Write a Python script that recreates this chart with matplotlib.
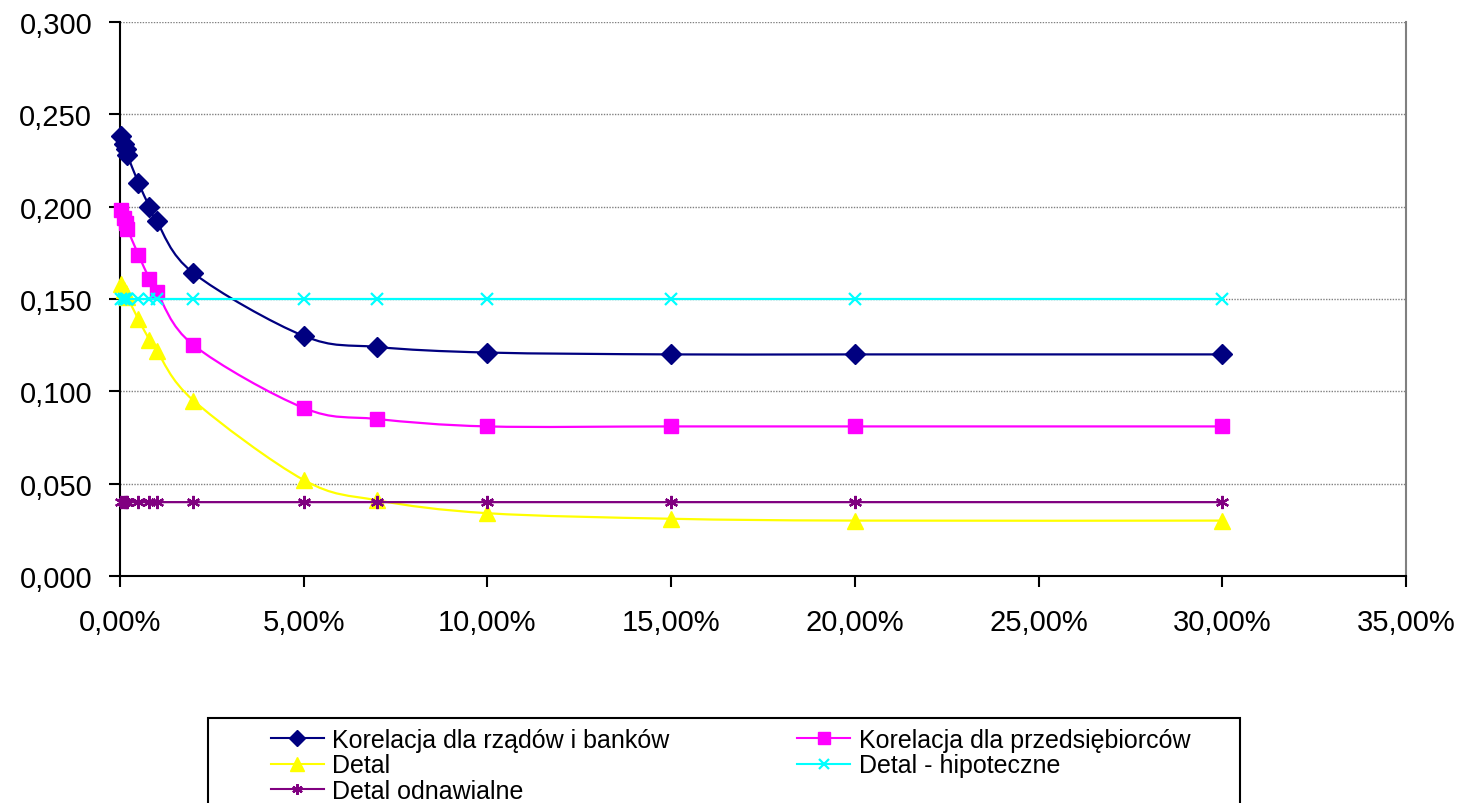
import numpy as np
import matplotlib
matplotlib.use("Agg")
import matplotlib.pyplot as plt
from matplotlib.path import Path
from matplotlib.patches import PathPatch, Rectangle
from matplotlib.lines import Line2D
from matplotlib.ticker import FuncFormatter, MultipleLocator

plt.rcParams['font.family'] = ['Liberation Sans', 'DejaVu Sans']

# PD w procentach
pd_pct = [0.03, 0.1, 0.15, 0.2, 0.5, 0.8, 1, 2, 5, 7, 10, 15, 20, 30]

rzady_banki = [0.238, 0.234, 0.231, 0.228, 0.213, 0.200, 0.192, 0.164, 0.130, 0.124, 0.121, 0.120, 0.120, 0.120]
przedsiebiorcy = [0.198, 0.194, 0.191, 0.188, 0.174, 0.161, 0.154, 0.125, 0.091, 0.085, 0.081, 0.081, 0.081, 0.081]
detal = [0.158, 0.155, 0.153, 0.151, 0.139, 0.128, 0.122, 0.095, 0.052, 0.041, 0.034, 0.031, 0.030, 0.030]
hipoteczne = [0.150] * 14
odnawialne = [0.040] * 14

series = [
    ("Korelacja dla rządów i banków", rzady_banki, "#000080", "D", 10),
    ("Korelacja dla przedsiębiorców", przedsiebiorcy, "#FF00FF", "s", 10),
    ("Detal", detal, "#FFFF00", "^", 12),
    ("Detal - hipoteczne", hipoteczne, "#00FFFF", "x", 8.5),
    ("Detal odnawialne", odnawialne, "#800080", (6, 2, 0), 9.5),
]


def smooth_line(ax, xs, ys, color, lw, z):
    """Linia wygladzona jak w Excelu (krzywe Beziera)"""
    pts = np.column_stack([xs, ys]).astype(float)
    n = len(pts)
    verts = [pts[0]]
    codes = [Path.MOVETO]
    for i in range(n - 1):
        p0 = pts[i - 1] if i > 0 else pts[i]
        p1 = pts[i]
        p2 = pts[i + 1]
        p3 = pts[i + 2] if i + 2 < n else pts[i + 1]
        verts += [p1 + (p2 - p0) / 6, p2 - (p3 - p1) / 6, p2]
        codes += [Path.CURVE4] * 3
    ax.add_patch(PathPatch(Path(verts, codes), fill=False, edgecolor=color,
                           lw=lw, zorder=z, capstyle='round', joinstyle='round'))


fig = plt.figure(figsize=(14.64, 8.04), dpi=100)
ax = fig.add_axes([120 / 1464, 1 - 577 / 804, (1406 - 120) / 1464, (577 - 23) / 804])

handles = []
for k, (name, vals, col, mk, ms) in enumerate(series):
    smooth_line(ax, pd_pct, vals, col, 1.6, 3 + 2 * k)
    mew = 1.6 if mk == "x" or isinstance(mk, tuple) else 1
    ax.plot(pd_pct, vals, linestyle='none', marker=mk, markersize=ms,
            color=col, markeredgecolor=col, markeredgewidth=mew,
            zorder=4 + 2 * k, clip_on=False)
    handles.append(Line2D([], [], color=col, lw=1.5, marker=mk, markersize=ms * 0.8,
                          markeredgecolor=col, markeredgewidth=mew))

ax.set_xlim(0, 35)
ax.set_ylim(0, 0.3)
ax.xaxis.set_major_locator(MultipleLocator(5))
ax.yaxis.set_major_locator(MultipleLocator(0.05))
ax.xaxis.set_major_formatter(FuncFormatter(lambda v, p: f"{v:.2f}%".replace(".", ",")))
ax.yaxis.set_major_formatter(FuncFormatter(lambda v, p: f"{v:.3f}".replace(".", ",")))

ax.grid(axis='y', color='#808080', linestyle=(0, (1, 1)), lw=1)
ax.set_axisbelow(True)
ax.spines["top"].set_visible(False)
ax.spines["right"].set_color("#808080")
ax.spines["right"].set_linewidth(1.5)
ax.spines["left"].set_linewidth(1.5)
ax.spines["bottom"].set_linewidth(1.5)
ax.tick_params(axis='both', direction='out', length=8, width=1.5, labelsize=21)
ax.tick_params(axis='x', pad=15)
ax.tick_params(axis='y', pad=12)

# legenda w ramce pod wykresem
order = [0, 2, 4, 1, 3]
fig.patches.append(Rectangle((208 / 1464, -0.02), (1240 - 208) / 1464, (804 - 719) / 804 + 0.02,
                             transform=fig.transFigure, fill=False, edgecolor='black', lw=1.5))
fig.legend([handles[i] for i in order], [series[i][0] for i in order],
           loc='upper left', bbox_to_anchor=(271 / 1464, 1 - 729 / 804), ncol=2,
           frameon=False, fontsize=18, borderpad=0, borderaxespad=0,
           handlelength=2.1, handletextpad=0.36, labelspacing=0.06, columnspacing=5.1)

fig.savefig("out.png", dpi=100)
